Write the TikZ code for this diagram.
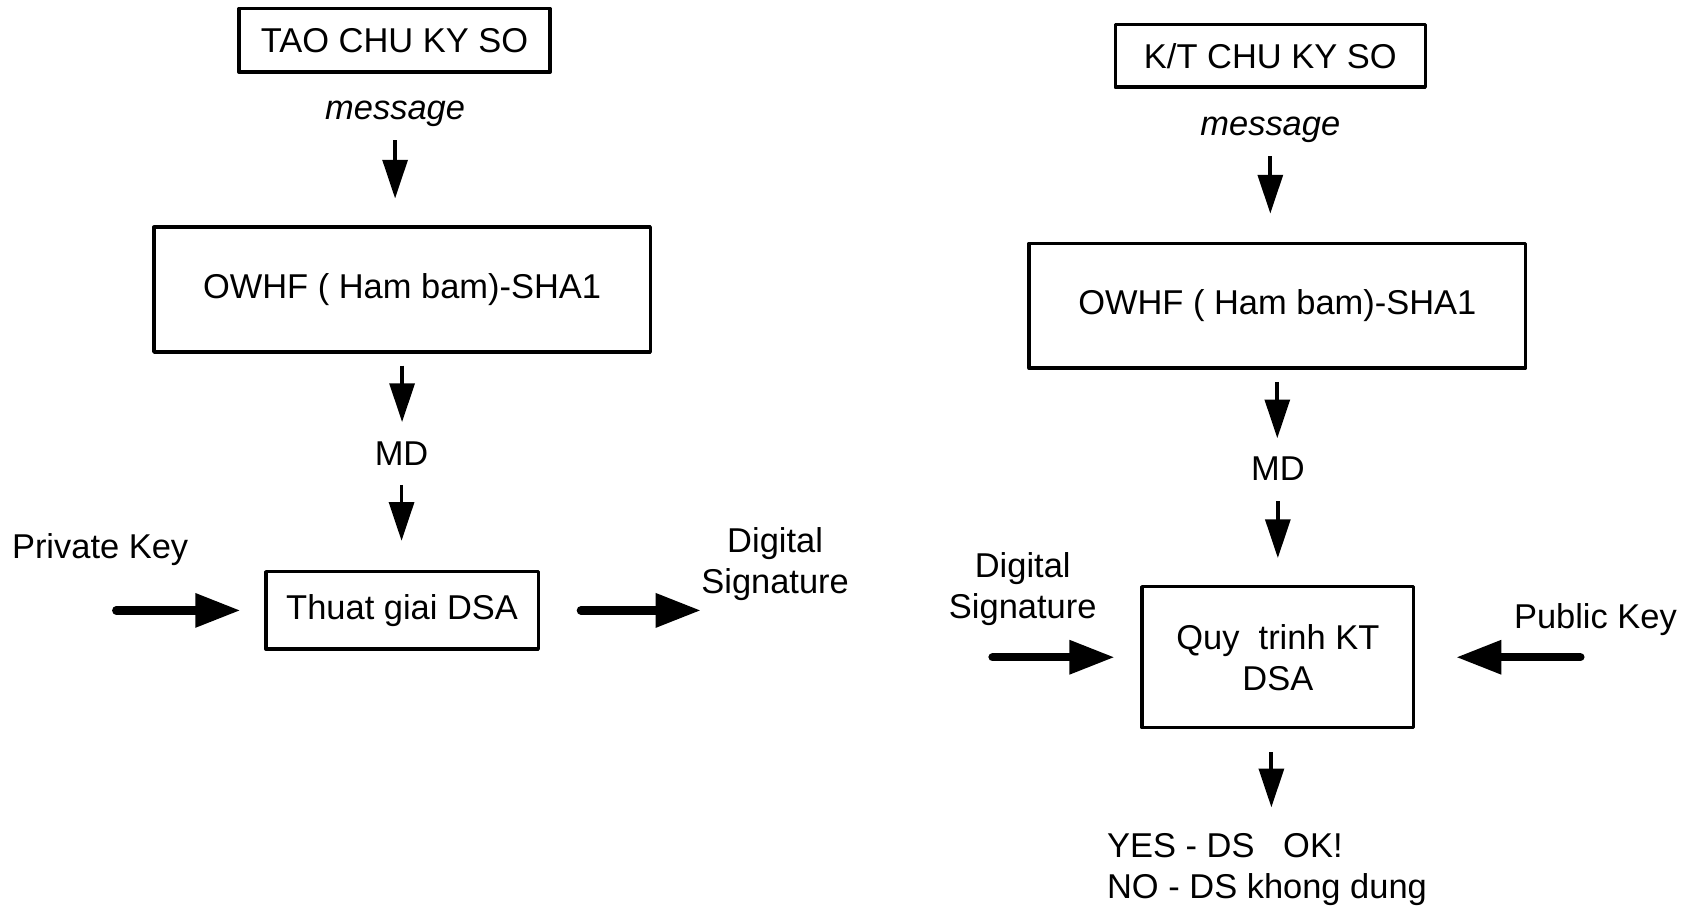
\documentclass[tikz,border=0pt]{standalone}
\usepackage{fontspec}
\setmainfont{Liberation Sans}
\usetikzlibrary{arrows.meta}

\begin{document}
\begin{tikzpicture}[x=0.5pt,y=-0.5pt,
  every node/.style={font=\fontsize{16}{19}\selectfont, inner sep=0pt},
  box/.style={draw, line width=1.6pt, line join=round, align=center},
  arr/.style={line width=1.8pt, -{Triangle[length=18pt,width=11.5pt]}},
  fatarr/.style={line width=3.9pt, line cap=round, -{Triangle[length=21pt,width=15pt]}}]
\useasboundingbox (0,0) rectangle (1568,843);
% tao chu ky
\node[box, minimum width=144.5pt, minimum height=29.5pt] (tao) at (366.5,37.5) {TAO CHU KY SO};
\node[anchor=base, font=\fontsize{16}{19}\selectfont\itshape] (msg1) at (367,111) {message};
\node[box, minimum width=230.5pt, minimum height=58pt] (hash1) at (373.5,269) {OWHF ( Ham bam)-SHA1};
\node[anchor=base] (md1) at (373,432.5) {MD};
\node[box, minimum width=126.5pt, minimum height=36pt] (dsa) at (373.5,567) {Thuat giai DSA};
\node[anchor=base] (prk) at (93,519) {Private Key};
\node[anchor=north, align=center] (sig1) at (720,490) {Digital\\Signature};
\coordinate (prkin) at (108,567);
\draw[arr, shorten <=6pt, shorten >=12.5pt] (msg1.south) -- (msg1.south |- hash1.north);
\draw[arr, shorten <=5.5pt, shorten >=9pt] (hash1.south) -- (hash1.south |- md1.north);
\draw[arr, shorten <=8.75pt, shorten >=13.5pt] (md1.south) -- (md1.south |- dsa.north);
\draw[fatarr, shorten >=11pt] (prkin) -- (dsa);
\draw[fatarr, shorten <=19pt] (dsa.east) -- (dsa.east -| sig1.west);
% kiem tra chu ky
\node[box, minimum width=144pt, minimum height=29pt] (kt) at (1180,52) {K/T CHU KY SO};
\node[anchor=base, font=\fontsize{16}{19}\selectfont\itshape] (msg2) at (1180,126) {message};
\node[box, minimum width=230.5pt, minimum height=58pt] (hash2) at (1186.5,284) {OWHF ( Ham bam)-SHA1};
\node[anchor=base] (md2) at (1187,446.5) {MD};
\node[box, minimum width=126pt, minimum height=65.5pt] (check) at (1187,610.5) {Quy\ \ trinh KT\\DSA};
\node[anchor=north, align=center] (sig2) at (950,513) {Digital\\Signature};
\node[anchor=base] (pub) at (1482,584) {Public Key};
\node[anchor=north west, align=left] (res) at (1028,774) {YES - DS\ \ \ OK!\\NO - DS khong dung};
\coordinate (sigin) at (922,610.5);
\coordinate (pubin) at (1468,610.5);
\draw[arr, shorten <=6pt, shorten >=13pt] (msg2.south) -- (msg2.south |- hash2.north);
\draw[arr, shorten <=5.5pt, shorten >=8.5pt] (hash2.south) -- (hash2.south |- md2.north);
\draw[arr, shorten <=9.25pt, shorten >=12.5pt] (md2.south) -- (md2.south |- check.north);
\draw[fatarr, shorten >=12pt] (sigin) -- (check);
\draw[fatarr, shorten >=19pt] (pubin) -- (check);
\draw[arr, shorten <=10.5pt, shorten >=12pt] ([xshift=-3pt]check.south) -- ([xshift=-3pt]check.south |- res.north);
\end{tikzpicture}
\end{document}
